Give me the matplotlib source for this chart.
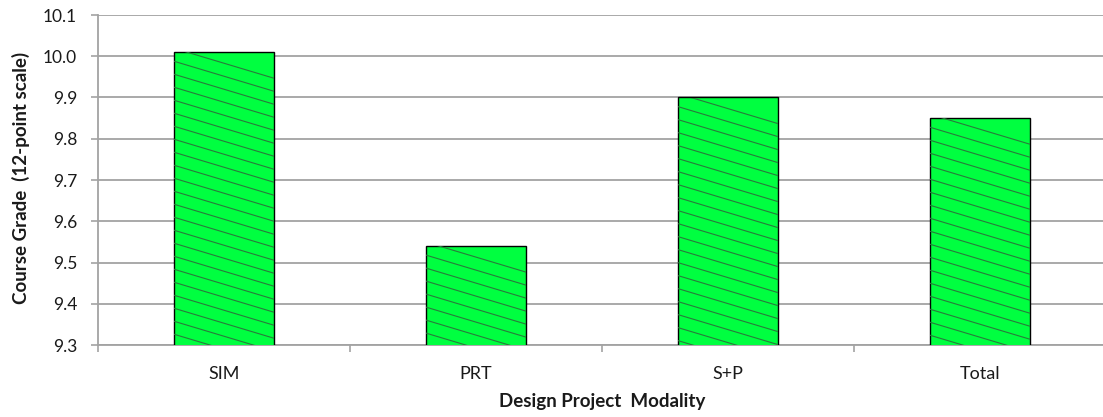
import numpy as np
import matplotlib.pyplot as plt
from matplotlib.lines import Line2D
from matplotlib.patches import Rectangle
from matplotlib.transforms import IdentityTransform

# Mean course grade per design project modality
categories = ['SIM', 'PRT', 'S+P', 'Total']
grades = [10.01, 9.54, 9.90, 9.85]

y_min, y_max = 9.3, 10.1
y_ticks = [9.3, 9.4, 9.5, 9.6, 9.7, 9.8, 9.9, 10.0, 10.1]

plt.rcParams['font.family'] = ['Lato', 'DejaVu Sans']

W, H = 1103, 417
fig = plt.figure(figsize=(W / 100, H / 100), dpi=100)
ax = fig.add_axes([98 / W, 72 / H, 1008 / W, 330 / H])

x = np.arange(len(categories))
bars = ax.bar(x, grades, width=0.4, color='#00ff40', edgecolor='black',
              linewidth=1.0, zorder=3)

ax.set_xlim(-0.5, len(categories) - 0.5)
ax.set_ylim(y_min, y_max)

# shallow diagonal hatching, drawn in pixel space and clipped to the
# visible part of each bar
slope = 0.3     # pixel drop per pixel across
step = 13       # vertical spacing in pixels
for rect, g in zip(bars, grades):
    x0, x1 = rect.get_x(), rect.get_x() + rect.get_width()
    clip = Rectangle((x0, y_min), x1 - x0, g - y_min, transform=ax.transData)
    (px0, pb), (px1, pt) = ax.transData.transform([(x0, y_min), (x1, g)])
    wpx = px1 - px0
    c = pt + 4
    while c > pb:
        ln = Line2D([px0, px1], [c, c - slope * wpx], color='#2a7a3c',
                    linewidth=0.8, transform=IdentityTransform(), zorder=4)
        ln.set_clip_path(clip)
        fig.add_artist(ln)
        c -= step

grid_col = '#a3a3a3'
ax.set_yticks(y_ticks)
ax.set_yticklabels([f'{t:.1f}' for t in y_ticks])
ax.yaxis.grid(True, color=grid_col, linewidth=1.3, zorder=0)
ax.set_axisbelow(True)

# category boundaries get tick marks, labels sit at the centres
ax.set_xticks(np.arange(-0.5, len(categories)))
ax.set_xticklabels([])
ax.set_xticks(x, minor=True)
ax.set_xticklabels(categories, minor=True)
ax.tick_params(axis='x', which='major', length=5, width=1.2, color=grid_col)
ax.tick_params(axis='x', which='minor', length=0, pad=15, labelsize=13,
               labelcolor='#1a1a1a')
ax.tick_params(axis='y', length=5, width=1.2, color=grid_col, pad=10,
               labelsize=12.5, labelcolor='#1a1a1a')

for side in ['top', 'right']:
    ax.spines[side].set_visible(False)
for side in ['left', 'bottom']:
    ax.spines[side].set_color(grid_col)
    ax.spines[side].set_linewidth(1.3)

fig.text(602 / W, 1 - 402 / H, 'Design Project  Modality', ha='center',
         va='center', fontsize=13.5, fontweight='bold', color='#1a1a1a')
fig.text(21 / W, 1 - 178 / H, 'Course Grade  (12-point scale)', ha='center',
         va='center', rotation=90, fontsize=13.5, fontweight='bold',
         color='#1a1a1a')

fig.savefig('out.png', dpi=100)
